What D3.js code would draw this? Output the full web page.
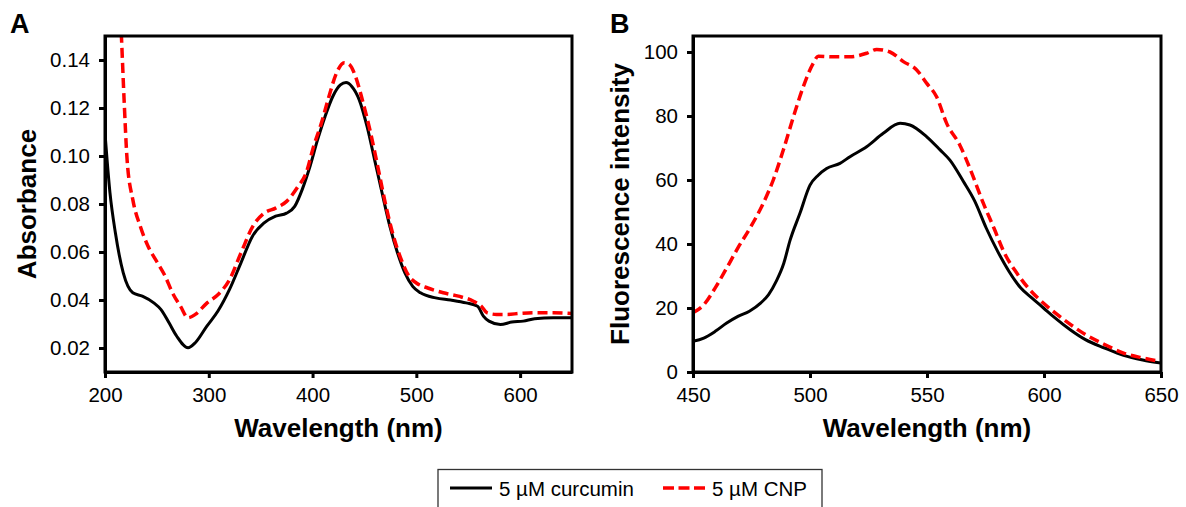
<!DOCTYPE html>
<html>
<head>
<meta charset="utf-8">
<script src="https://cdn.jsdelivr.net/npm/d3@7"></script>
<style>
  body { margin: 0; background: #fff; }
  svg { font-family: "Liberation Sans", Arial, sans-serif; }
</style>
</head>
<body>
<div id="chart"></div>
<script>
// 1: DATA
const seriesNames = ["5 \u00b5M curcumin", "5 \u00b5M CNP"];

// Panel A: absorbance spectra
const absCurcumin = [
  [200, 0.1095], [204.8, 0.0846], [210, 0.068], [217.6, 0.0513], [226.8, 0.043],
  [236, 0.0416], [247, 0.0388], [254, 0.036], [261.7, 0.0305], [269, 0.025],
  [280, 0.0201], [287, 0.0222], [298, 0.029], [309, 0.0355], [320, 0.0444],
  [331, 0.0555], [342, 0.0665], [353, 0.072], [364.4, 0.0749], [375, 0.0762],
  [382.8, 0.079], [390, 0.086], [397.5, 0.0956], [404.8, 0.1067], [412, 0.1164],
  [419.5, 0.1248], [426.8, 0.1296], [432.3, 0.1306], [437.8, 0.129], [445, 0.1234],
  [452.5, 0.1123], [459.8, 0.0984], [467, 0.0846], [474.5, 0.0707], [481.9, 0.0596],
  [489, 0.0513], [496.5, 0.0457], [504, 0.043], [518.6, 0.0409], [533, 0.04],
  [548, 0.0388], [559, 0.0374], [564.6, 0.0333], [570, 0.0312], [581, 0.0298],
  [592, 0.0308], [603, 0.0312], [614, 0.0322], [632, 0.0326], [650, 0.0326]
];
const absCNP = [
  [213.5, 0.17], [215.8, 0.150], [218.4, 0.1234], [221.3, 0.0984], [226.8, 0.0818],
  [234, 0.0707], [241.5, 0.0624], [250.6, 0.0555], [258, 0.0499], [265, 0.043],
  [272.7, 0.0374], [280, 0.0326], [287, 0.034], [298.4, 0.0388], [309, 0.0423],
  [320, 0.0485], [331, 0.0596], [342.4, 0.0707], [353.4, 0.0762], [364.4, 0.0783],
  [375, 0.0811], [386, 0.0873], [393.8, 0.0929], [401, 0.104], [408.5, 0.1137],
  [415.8, 0.1248], [423, 0.1345], [430.5, 0.1389], [436, 0.1379], [441.5, 0.133],
  [448.8, 0.122], [456, 0.1095], [463.5, 0.0942], [470.8, 0.079], [478, 0.0665],
  [485.5, 0.0568], [492.9, 0.0499], [500, 0.0471], [511, 0.045], [526, 0.043],
  [540.6, 0.0416], [555, 0.0395], [562.6, 0.0374], [568, 0.0347], [577.3, 0.034],
  [588, 0.034], [599, 0.0344], [614, 0.0347], [632, 0.0347], [650, 0.0344]
];

// Panel B: fluorescence spectra
const fluoCurcumin = [
  [450, 9.6], [454.6, 10.6], [459.5, 12.7], [464.4, 15.3], [469.2, 17.4],
  [474.1, 19], [479, 21.6], [482.3, 24.2], [485.6, 28.4], [488.8, 34],
  [491.5, 41.2], [495.7, 49.6], [500, 58.4], [503.5, 61.5], [507.1, 63.6],
  [512.8, 65.2], [517.1, 67.3], [524.2, 70.4], [531.3, 74.6], [538.5, 77.7],
  [542.7, 77.2], [549.9, 73.5], [555.6, 69.4], [559.8, 66.2], [565.5, 59.6],
  [570.4, 53.4], [575.3, 45], [580.2, 37.7], [585, 31.5], [590, 26.3],
  [594.9, 23.1], [599.8, 20], [604.7, 16.9], [611.2, 13.2], [617.7, 10.1],
  [625.9, 7.5], [634, 5.2], [642.2, 3.75], [650, 2.8]
];
const fluoCNP = [
  [450, 18.5], [454.6, 21], [459.5, 26.3], [464.4, 32.5], [469.2, 38.8],
  [474.4, 45], [480, 52.7], [484.3, 60], [488.6, 69.4], [492.9, 79.7],
  [497.1, 89.1], [501.4, 96.5], [503.5, 98.7], [510, 98.5], [517.1, 98.5],
  [524.2, 99.6], [528.5, 100.8], [534.2, 100], [539.9, 97], [545.6, 94.4],
  [549.9, 90.2], [554.1, 86], [558.4, 77.7], [563.9, 71.1], [568.8, 62.8],
  [573.7, 53.4], [578.6, 45], [583.4, 36.7], [588.3, 31], [593.2, 26.3],
  [598.1, 22.6], [603, 19.5], [609.5, 15.8], [617.7, 11.7], [625.9, 8.6],
  [634, 5.9], [642.2, 4.4], [650, 3.3]
];

// Axis ticks
const ticksAx = [200, 300, 400, 500, 600];
const ticksAy = [0.02, 0.04, 0.06, 0.08, 0.10, 0.12, 0.14];
const ticksBx = [450, 500, 550, 600, 650];
const ticksBy = [0, 20, 40, 60, 80, 100];

// 2: SVG
const W = 1186, H = 507;
const svg = d3.select("#chart").append("svg")
    .attr("width", W)
    .attr("height", H);

const styles = [
  { color: "#000", width: 3, dash: null },
  { color: "#ff0000", width: 3.5, dash: "10,5" }
];

function drawPanel(opts) {
    const { left, right, top, bottom, xDomain, yDomain, xTicks, yTicks, yFormat,
            series, letter, yTitle, yTitleX, id } = opts;

    const x = d3.scaleLinear().domain(xDomain).range([left, right]);
    const y = d3.scaleLinear().domain(yDomain).range([bottom, top]);

    svg.append("clipPath").attr("id", id)
      .append("rect")
        .attr("x", left).attr("y", top)
        .attr("width", right - left).attr("height", bottom - top);

    // lines
    const line = d3.line()
        .x(d => x(d[0]))
        .y(d => y(d[1]))
        .curve(d3.curveMonotoneX);

    series.forEach((s, i) => {
        svg.append("path")
            .attr("clip-path", `url(#${id})`)
            .attr("d", line(s))
            .attr("fill", "none")
            .attr("stroke", styles[i].color)
            .attr("stroke-width", styles[i].width)
            .attr("stroke-dasharray", styles[i].dash)
            .attr("stroke-linejoin", "round");
    });

    // frame
    svg.append("rect")
        .attr("x", left).attr("y", top)
        .attr("width", right - left).attr("height", bottom - top)
        .attr("fill", "none")
        .attr("stroke", "#000")
        .attr("stroke-width", 3);

    // axes
    const gx = svg.append("g")
        .attr("transform", `translate(0,${bottom})`)
        .call(d3.axisBottom(x).tickValues(xTicks).tickSize(6).tickPadding(9).tickSizeOuter(0));
    const gy = svg.append("g")
        .attr("transform", `translate(${left},0)`)
        .call(d3.axisLeft(y).tickValues(yTicks).tickFormat(yFormat).tickSize(6).tickPadding(9).tickSizeOuter(0));

    [gx, gy].forEach(g => {
        g.select(".domain").attr("stroke-width", 3);
        g.selectAll(".tick line").attr("stroke-width", 3);
        g.selectAll(".tick text")
            .attr("fill", "#000")
            .style("font-size", "20.5px")
            .style("font-family", "'Liberation Sans', Arial, sans-serif");
    });

    // titles
    svg.append("text")
        .attr("x", (left + right) / 2)
        .attr("y", 437)
        .attr("text-anchor", "middle")
        .style("font-size", "26px")
        .style("font-weight", "bold")
        .text("Wavelength (nm)");

    svg.append("text")
        .attr("transform", `translate(${yTitleX},${(top + bottom) / 2}) rotate(-90)`)
        .attr("text-anchor", "middle")
        .style("font-size", "26px")
        .style("font-weight", "bold")
        .text(yTitle);

    svg.append("text")
        .attr("x", letter.x)
        .attr("y", 33)
        .style("font-size", "27px")
        .style("font-weight", "bold")
        .text(letter.t);
}

drawPanel({
    id: "clipA", left: 105, right: 572, top: 36, bottom: 372,
    xDomain: [200, 650], yDomain: [0.01, 0.15],
    xTicks: ticksAx, yTicks: ticksAy, yFormat: d3.format(".2f"),
    series: [absCurcumin, absCNP],
    letter: { t: "A", x: 10 }, yTitle: "Absorbance", yTitleX: 36
});

drawPanel({
    id: "clipB", left: 693, right: 1161, top: 36, bottom: 372,
    xDomain: [450, 650], yDomain: [0, 105],
    xTicks: ticksBx, yTicks: ticksBy, yFormat: d3.format("d"),
    series: [fluoCurcumin, fluoCNP],
    letter: { t: "B", x: 610 }, yTitle: "Fluorescence intensity", yTitleX: 629
});

// 3: LEGEND
const legend = svg.append("g");
legend.append("rect")
    .attr("x", 438).attr("y", 469.5)
    .attr("width", 384).attr("height", 60)
    .attr("fill", "#fff")
    .attr("stroke", "#333")
    .attr("stroke-width", 1.3);

const legendX = [450, 663];
seriesNames.forEach((name, i) => {
    legend.append("line")
        .attr("x1", legendX[i]).attr("x2", legendX[i] + 42)
        .attr("y1", 488).attr("y2", 488)
        .attr("stroke", styles[i].color)
        .attr("stroke-width", styles[i].width)
        .attr("stroke-dasharray", i === 1 ? "11,4.5" : null);
    legend.append("text")
        .attr("x", legendX[i] + 49)
        .attr("y", 496)
        .style("font-size", "20.5px")
        .text(name);
});
</script>
</body>
</html>
